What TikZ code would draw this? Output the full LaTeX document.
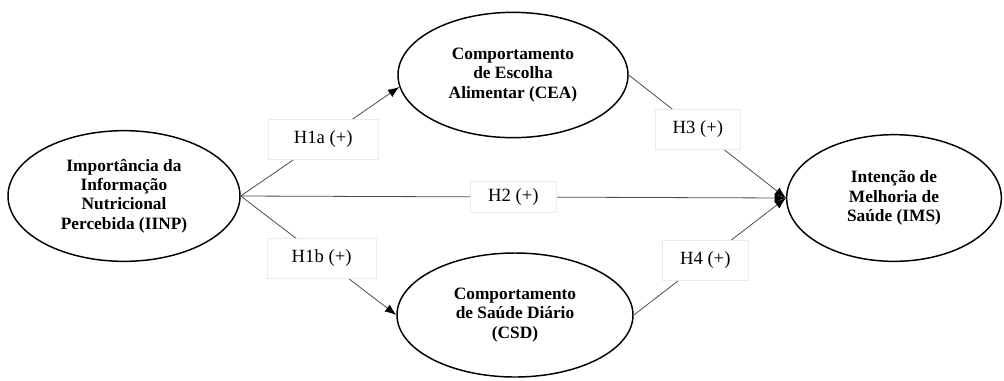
\documentclass[tikz,border=0pt]{standalone}
\usepackage{fontspec}
\setmainfont{Liberation Serif}
\usetikzlibrary{shapes.geometric,arrows.meta}

\begin{document}
\begin{tikzpicture}[x=0.75pt,y=-0.75pt,
  construct/.style={ellipse, draw, line width=1.1pt, inner sep=0pt, align=center,
    font=\bfseries\fontsize{13}{14.5}\selectfont},
  hyp/.style={fill=white, draw=black!8, text=black, line width=0.4pt, inner sep=2pt,
    minimum width=64pt, minimum height=30pt, font=\fontsize{14}{16}\selectfont},
  conn/.style={color=black!70, line width=0.6pt,
    -{Latex[length=8.5pt,width=6.5pt,color=black,fill=black]}}]
  \useasboundingbox (0,0) rectangle (1004,380);
  \node[construct, minimum width=174pt, minimum height=98pt] (iinp) at (124,196)
    {Importância da\\Informação\\Nutricional\\Percebida (IINP)};
  \node[construct, minimum width=172.5pt, minimum height=94pt] (cea) at (513,75)
    {Comportamento\\de Escolha\\Alimentar (CEA)};
  \node[construct, minimum width=177pt, minimum height=93pt] (csd) at (515,315)
    {Comportamento\\de Saúde Diário\\(CSD)};
  \node[construct, minimum width=161pt, minimum height=95pt] (ims) at (894,198)
    {Intenção de\\Melhoria de\\Saúde (IMS)};
  \path[conn]
  (iinp.east) edge node [hyp, pos=0.52, minimum width=82pt] {H1a (+)} (cea.186)
  edge node [hyp, pos=0.52, minimum width=82pt] {H1b (+)} (csd.west)
  edge node [hyp, pos=0.5, minimum height=23pt] {H2 (+)} (ims.west)
  (cea.east) edge node [hyp, pos=0.44] {H3 (+)} (ims.west)
  (csd.east) edge node [hyp, pos=0.47] {H4 (+)} (ims.west)
  ;
\end{tikzpicture}
\end{document}
